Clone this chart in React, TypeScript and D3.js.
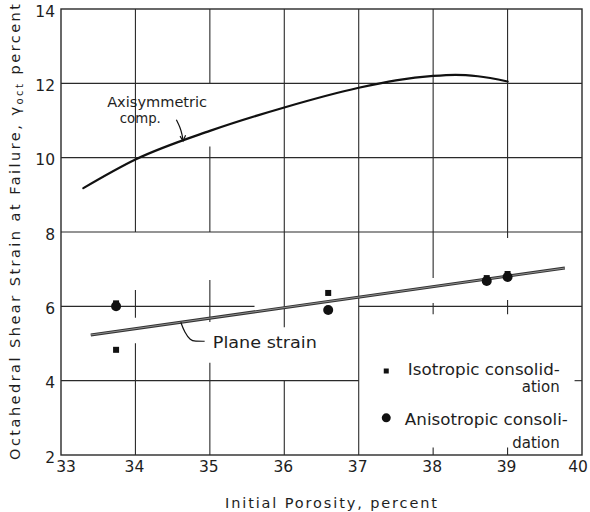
import React from 'react';
import * as d3 from 'd3';

const W = 590;
const H = 512;

// Axis ticks
const xTicks = [33, 34, 35, 36, 37, 38, 39, 40];
const yTicks = [2, 4, 6, 8, 10, 12, 14];

// Axisymmetric compression curve (initial porosity %, octahedral shear strain %)
const axiPorosity = [33.3, 34, 35, 36, 37, 37.5, 38, 38.3, 38.6, 39];
const axiStrain = [9.18, 9.95, 10.72, 11.35, 11.88, 12.08, 12.2, 12.23, 12.19, 12.05];

// Plane strain trend line
const planePorosity = [33.4, 39.77];
const planeStrain = [5.23, 7.03];

// Test points
const isoPorosity = [33.74, 33.74, 36.59, 38.72, 39.0];
const isoStrain = [6.08, 4.83, 6.36, 6.76, 6.87];
const anisoPorosity = [33.74, 36.59, 38.72, 39.0];
const anisoStrain = [6.0, 5.9, 6.68, 6.79];

// Hand-drawn grid: vertical rules at these porosities, drawn over the listed strain spans
const gridX = [34, 35, 36, 37, 38, 39];
const gridXSpans = [
  [[8, 14], [5.69, 6.44], [2, 5.01]],
  [[12, 14], [8, 10.3], [5.58, 6.71], [2, 4.48]],
  [[5.44, 14], [2, 4]],
  [[2, 14]],
  [[6.76, 14], [5.79, 6.09], [2, 2.2]],
  [[7.84, 14], [5.79, 6.17], [2, 2.2]],
];
// Horizontal rules at these strains, drawn over the listed porosity spans
const gridY = [12, 10, 8, 6, 4];
const gridYSpans = [
  [[33, 40]],
  [[33, 40]],
  [[33, 40]],
  [[33, 35.6], [37, 40]],
  [[33, 37], [39.9, 40]],
];

const FONT = "'DejaVu Sans', 'Open Sans', sans-serif";
const INK = '#1e1e1e';

export default function App() {
  const x = d3.scaleLinear().domain([33, 40]).range([61, 582]);
  const y = d3.scaleLinear().domain([2, 14]).range([455, 9]);

  const axiPts: [number, number][] = axiPorosity.map((p, i) => [p, axiStrain[i]]);
  const planePts: [number, number][] = planePorosity.map((p, i) => [p, planeStrain[i]]);

  const curve = d3
    .line<[number, number]>()
    .x((d) => x(d[0]))
    .y((d) => y(d[1]))
    .curve(d3.curveMonotoneX);
  const straight = d3
    .line<[number, number]>()
    .x((d) => x(d[0]))
    .y((d) => y(d[1]));

  const axiLeader = d3
    .line<[number, number]>()
    .x((d) => x(d[0]))
    .y((d) => y(d[1]))
    .curve(d3.curveBasis)([
    [34.55, 11.02],
    [34.6, 10.82],
    [34.63, 10.6],
    [34.64, 10.45],
  ]);
  const planeLeader = d3
    .line<[number, number]>()
    .x((d) => x(d[0]))
    .y((d) => y(d[1]))
    .curve(d3.curveBasis)([
    [34.61, 5.57],
    [34.66, 5.3],
    [34.74, 5.08],
    [34.8, 5.06],
    [34.93, 5.06],
  ]);

  return (
    <svg
      width={W}
      height={H}
      style={{ position: 'absolute', left: 0, top: 0, background: '#fff' }}
      fontFamily={FONT}
    >
      <rect width={W} height={H} fill="#fff" />

      {/* grid */}
      <g stroke="#2a2a2a" strokeWidth={1.1} fill="none">
        {gridX.map((gx, i) =>
          gridXSpans[i].map((s, j) => (
            <line key={`v${i}-${j}`} x1={x(gx)} x2={x(gx)} y1={y(s[0])} y2={y(s[1])} />
          ))
        )}
        {gridY.map((gy, i) =>
          gridYSpans[i].map((s, j) => (
            <line key={`h${i}-${j}`} x1={x(s[0])} x2={x(s[1])} y1={y(gy)} y2={y(gy)} />
          ))
        )}
        {/* frame */}
        <rect x={x(33)} y={y(14)} width={x(40) - x(33)} height={y(2) - y(14)} strokeWidth={1.4} />
      </g>

      {/* y tick labels */}
      <g fill={INK} fontSize={15.5} textAnchor="end">
        {yTicks.map((t) => (
          <text key={t} x={x(33) - 6} y={y(t) + 7.5}>
            {t}
          </text>
        ))}
      </g>
      {/* x tick labels */}
      <g fill={INK} fontSize={15.5} textAnchor="middle">
        {xTicks.map((t, i) => (
          <text key={t} x={x(t) + (i === 0 ? 5 : i === xTicks.length - 1 ? -4 : -1)} y={472}>
            {t}
          </text>
        ))}
      </g>

      {/* axis titles */}
      <text
        x={331}
        y={508}
        fontSize={14.5}
        fill={INK}
        textAnchor="middle"
        textLength={212}
        lengthAdjust="spacing"
      >
        Initial Porosity, percent
      </text>
      <text
        transform="translate(20,232) rotate(-90)"
        fontSize={14.5}
        fill={INK}
        textAnchor="middle"
        textLength={456}
        lengthAdjust="spacing"
      >
        Octahedral Shear Strain at Failure, γ
        <tspan fontSize={10} dy={3}>
          oct
        </tspan>
        <tspan dy={-3}> percent</tspan>
      </text>

      {/* axisymmetric compression curve */}
      <path d={curve(axiPts) || ''} fill="none" stroke="#111" strokeWidth={2.2} strokeLinecap="round" />
      <path d={axiLeader || ''} fill="none" stroke="#111" strokeWidth={1.2} />
      <path
        d={`M${x(34.64) - 3},${y(10.58)} L${x(34.64)},${y(10.45)} L${x(34.64) + 2.5},${y(10.6)}`}
        fill="none"
        stroke="#111"
        strokeWidth={1.2}
      />
      <text x={x(33.62)} y={y(11.36)} fontSize={14} fill={INK} textLength={100} lengthAdjust="spacingAndGlyphs">
        Axisymmetric
      </text>
      <text x={x(33.79)} y={y(10.93)} fontSize={14} fill={INK} textLength={41} lengthAdjust="spacingAndGlyphs">
        comp.
      </text>

      {/* plane strain line */}
      <path d={straight(planePts) || ''} fill="none" stroke="#333" strokeWidth={3} />
      <path d={straight(planePts) || ''} fill="none" stroke="#9a9a9a" strokeWidth={0.9} />
      <path d={planeLeader || ''} fill="none" stroke="#111" strokeWidth={1.2} />
      <text x={x(35.04)} y={y(4.88)} fontSize={16} fill={INK} textLength={104} lengthAdjust="spacingAndGlyphs">
        Plane strain
      </text>

      {/* data points */}
      <g fill="#111">
        {isoPorosity.map((p, i) => (
          <rect key={`i${i}`} x={x(p) - 3} y={y(isoStrain[i]) - 3} width={6} height={6} />
        ))}
        {anisoPorosity.map((p, i) => (
          <circle key={`a${i}`} cx={x(p)} cy={y(anisoStrain[i])} r={5} />
        ))}
      </g>

      {/* legend */}
      <g fill={INK} fontSize={15}>
        <rect x={x(37.37) - 2.5} y={y(4.26) - 2.5} width={5} height={5} fill="#111" />
        <text x={x(37.66)} y={y(4.15)} textLength={152} lengthAdjust="spacingAndGlyphs">
          Isotropic consolid-
        </text>
        <text x={x(39.7)} y={y(3.7)} textAnchor="end">
          ation
        </text>
        <circle cx={x(37.37)} cy={y(3.0)} r={4.5} fill="#111" />
        <text x={x(37.62)} y={y(2.81)} textLength={163} lengthAdjust="spacingAndGlyphs">
          Anisotropic consoli-
        </text>
        <text x={x(39.7)} y={y(2.19)} textAnchor="end">
          dation
        </text>
      </g>
    </svg>
  );
}
